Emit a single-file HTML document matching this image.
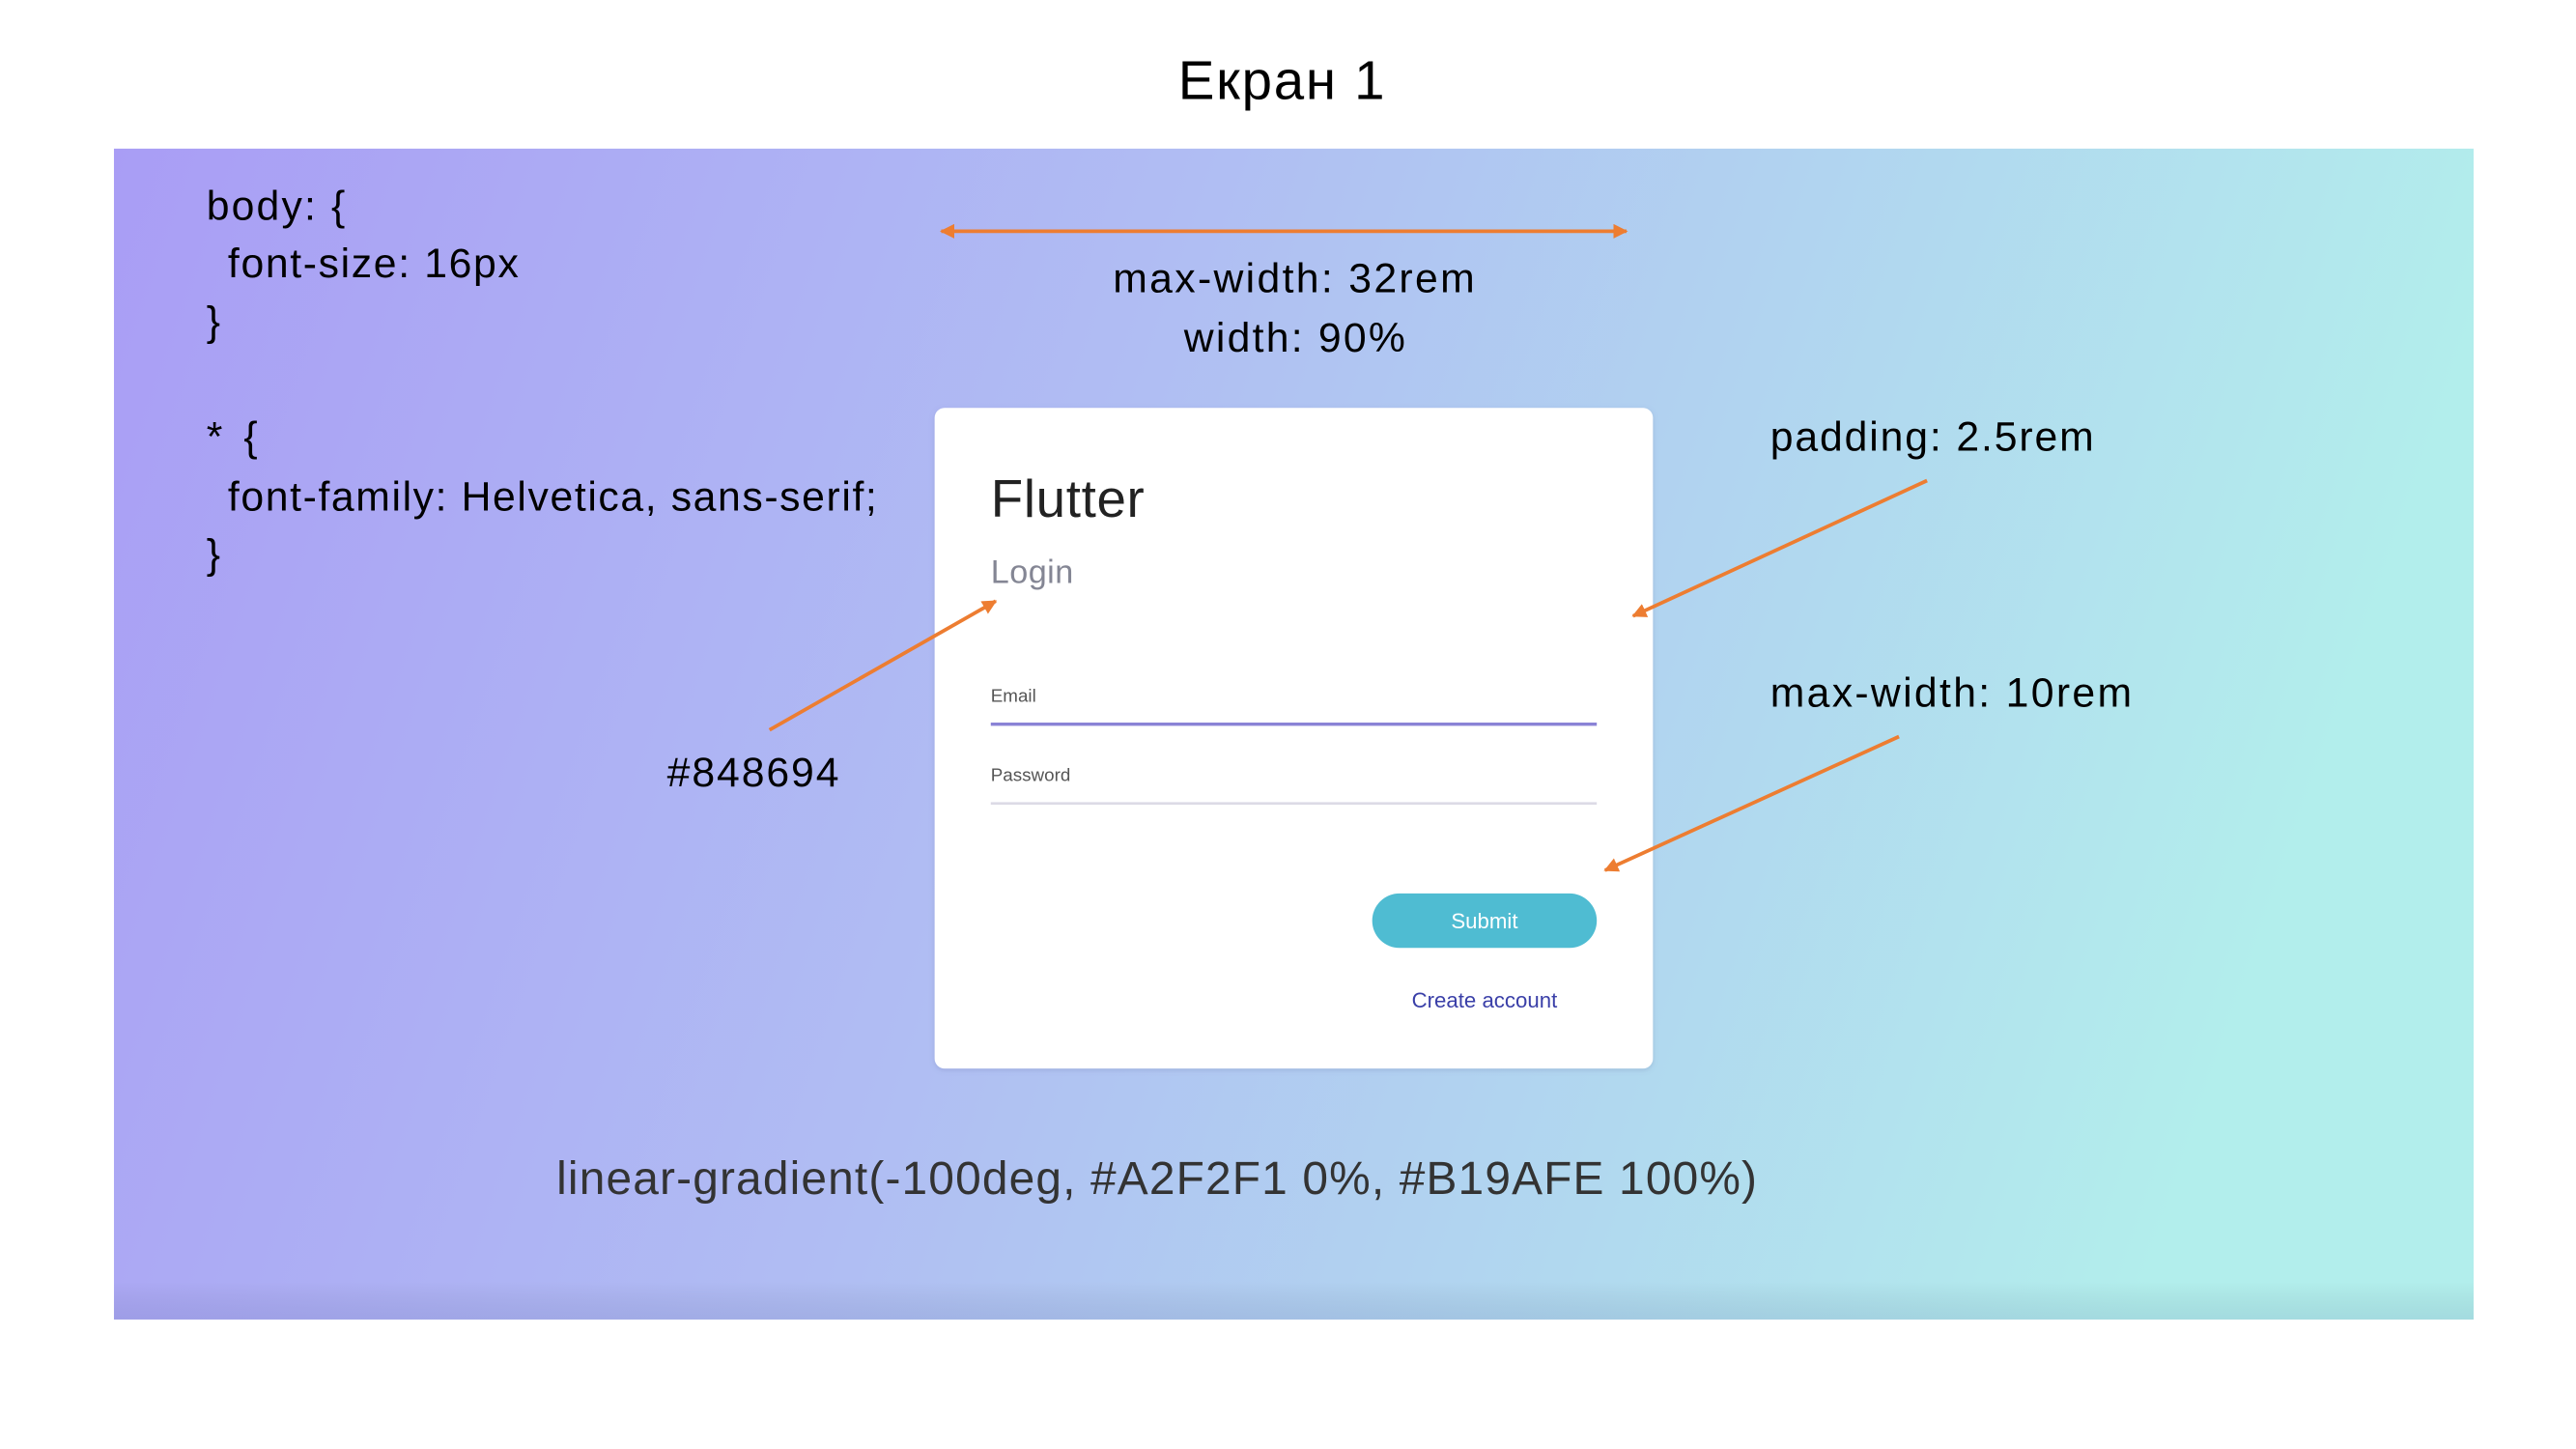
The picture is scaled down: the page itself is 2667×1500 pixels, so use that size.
<!DOCTYPE html>
<html><head><meta charset="utf-8"><style>
html,body{margin:0;padding:0;background:#fff;width:2667px;height:1500px;overflow:hidden}
svg{display:block}
.c{font-family:"Liberation Sans",sans-serif;fill:#000;font-size:25px}
</style></head><body>
<svg width="2667" height="1500" viewBox="0 0 1560 877.4" xmlns="http://www.w3.org/2000/svg">
<defs>
<linearGradient id="bg" x1="0" y1="0" x2="1" y2="0.17">
<stop offset="0" stop-color="#A99DF5"/><stop offset="0.45" stop-color="#B0BDF3"/><stop offset="1" stop-color="#B2EEEC"/>
</linearGradient>
<linearGradient id="sh" x1="0" y1="0" x2="0" y2="1">
<stop offset="0" stop-color="#000" stop-opacity="0"/><stop offset="1" stop-color="#203070" stop-opacity="0.1"/>
</linearGradient>
<marker id="ah" viewBox="0 0 10 10" refX="9" refY="5" markerWidth="4" markerHeight="4" orient="auto-start-reverse"><path d="M0,0 L10,5 L0,10 z" fill="#ED7D31"/></marker>
<filter id="ds" x="-5%" y="-5%" width="110%" height="110%"><feDropShadow dx="0" dy="1" stdDeviation="1.5" flood-color="#6070a0" flood-opacity="0.25"/></filter>
</defs>
<text x="776" y="60" text-anchor="middle" class="c" style="font-size:33px" textLength="125">Екран 1</text>
<rect x="69" y="90" width="1429" height="709" fill="url(#bg)"/>
<rect x="69" y="776" width="1429" height="23" fill="url(#sh)"/>
<g>
<text class="c" x="125" y="133" textLength="84">body: {</text>
<text class="c" x="138" y="168" textLength="176">font-size: 16px</text>
<text class="c" x="125" y="203">}</text>
<text class="c" x="125" y="273" textLength="31">* {</text>
<text class="c" x="138" y="309" textLength="393">font-family: Helvetica, sans-serif;</text>
<text class="c" x="125" y="344">}</text>
</g>
<line x1="570" y1="140" x2="985" y2="140" stroke="#ED7D31" stroke-width="2.2" marker-start="url(#ah)" marker-end="url(#ah)"/>
<text class="c" x="674" y="177" textLength="219">max-width: 32rem</text>
<text class="c" x="717" y="213" textLength="134">width: 90%</text>
<g filter="url(#ds)"><rect x="566" y="247" width="435" height="400" rx="6" fill="#fff"/></g>
<text x="600" y="313" class="c" style="font-size:32px;fill:#222" textLength="93">Flutter</text>
<text x="600" y="353" class="c" style="font-size:20px;fill:#848694" textLength="50">Login</text>
<text x="600" y="425" class="c" style="font-size:11px;fill:#555">Email</text>
<line x1="600" y1="438.5" x2="967" y2="438.5" stroke="#8A83D6" stroke-width="2"/>
<text x="600" y="473" class="c" style="font-size:11px;fill:#555">Password</text>
<line x1="600" y1="486.5" x2="967" y2="486.5" stroke="#DCDAE6" stroke-width="1.5"/>
<rect x="831" y="541" width="136" height="33" rx="16.5" fill="#4FBCD2"/>
<text x="899" y="562" text-anchor="middle" class="c" style="font-size:13px;fill:#fff">Submit</text>
<text x="899" y="610" text-anchor="middle" class="c" style="font-size:13px;fill:#3A3FA8">Create account</text>
<text class="c" x="1072" y="273" textLength="196">padding: 2.5rem</text>
<line x1="1167" y1="291" x2="989" y2="373" stroke="#ED7D31" stroke-width="2.2" marker-end="url(#ah)"/>
<text class="c" x="1072" y="428" textLength="219">max-width: 10rem</text>
<line x1="1150" y1="446" x2="972" y2="527" stroke="#ED7D31" stroke-width="2.2" marker-end="url(#ah)"/>
<text class="c" x="404" y="476" textLength="104">#848694</text>
<line x1="466" y1="442" x2="603" y2="364" stroke="#ED7D31" stroke-width="2.2" marker-end="url(#ah)"/>
<text class="c" x="337" y="723" style="font-size:28px;fill:#333" textLength="727">linear-gradient(-100deg, #A2F2F1 0%, #B19AFE 100%)</text>
</svg>
</body></html>
